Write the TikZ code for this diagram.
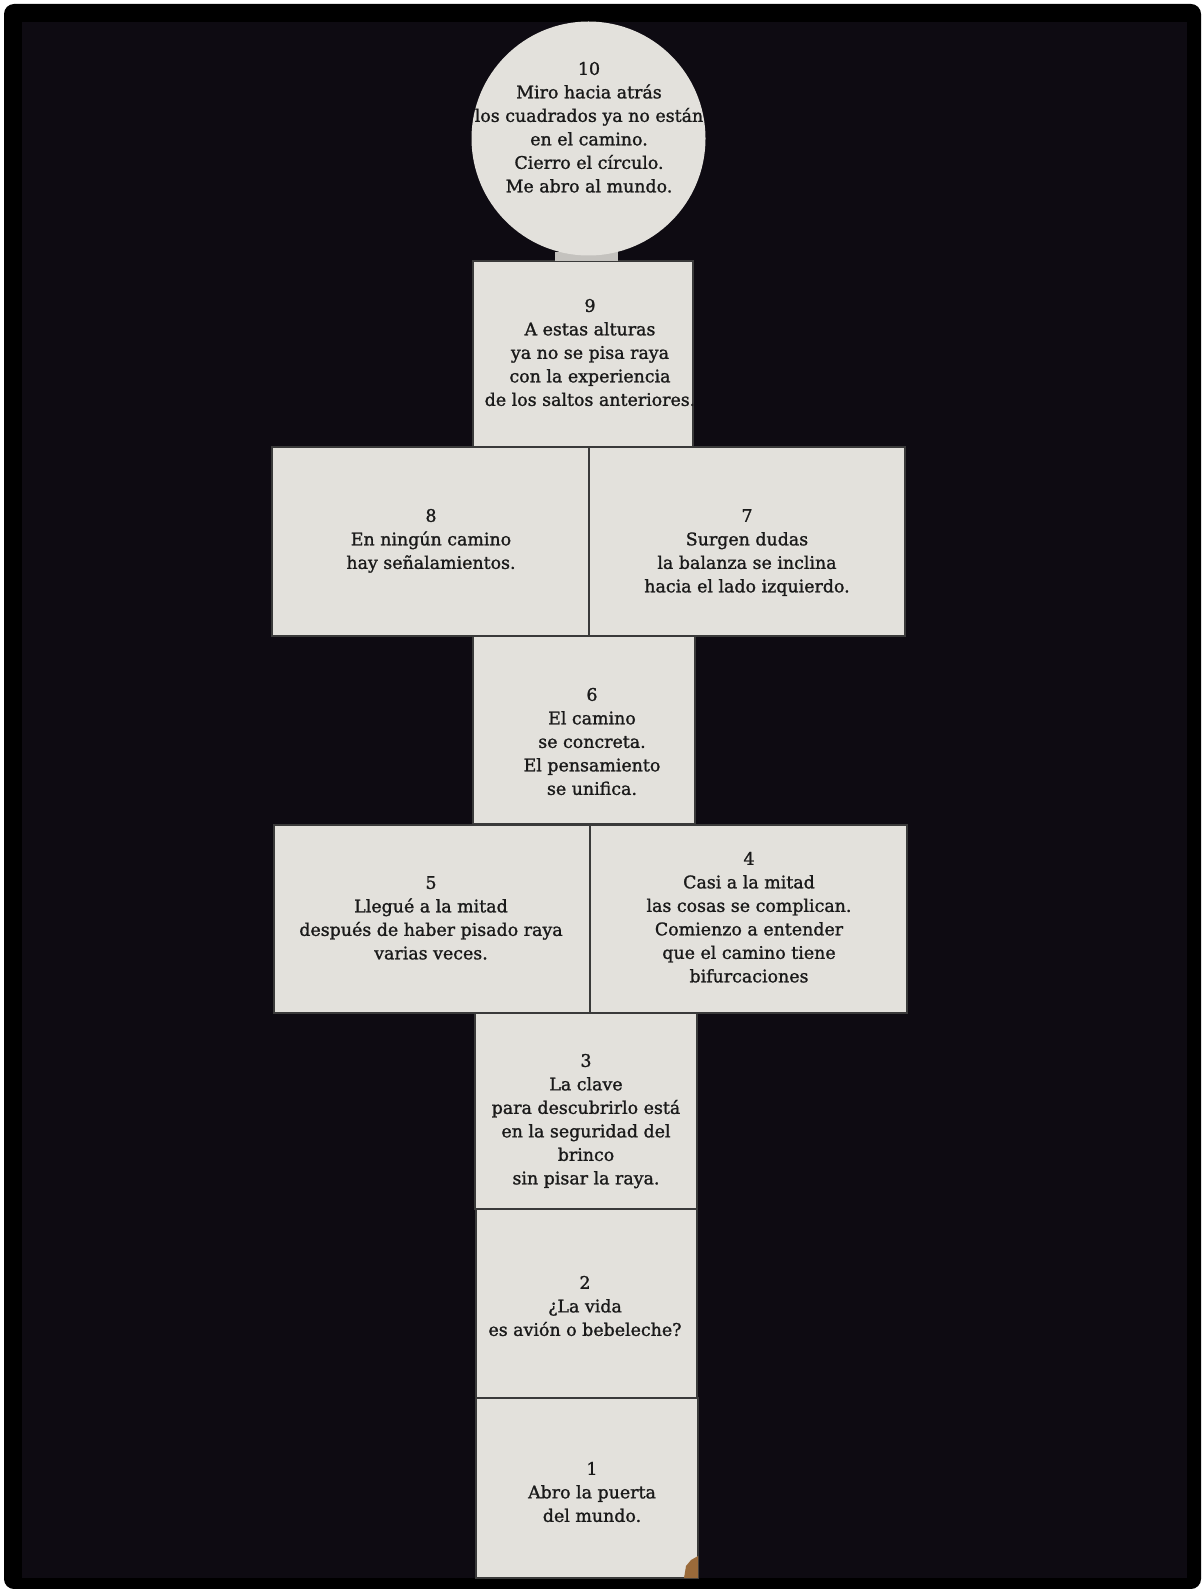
\documentclass[tikz,border=0pt]{standalone}
\usepackage{fontspec}
\setmainfont{DejaVu Serif}
\newfontfamily\cardfont[FakeBold=1.3]{DejaVu Serif}
\definecolor{paper}{HTML}{E3E1DC}
\definecolor{edge}{HTML}{3A3A3A}
\definecolor{ink}{HTML}{1A1A1A}
\definecolor{innerbg}{HTML}{0E0B12}
\definecolor{tabgray}{HTML}{C4C2BE}
\definecolor{tape}{HTML}{9A6A3A}
\begin{document}
\begin{tikzpicture}[x=0.5pt,y=-0.5pt,
  paperbox/.style={fill=paper, draw=edge, line width=0.7pt},
  txt/.style={anchor=north, inner sep=0pt, align=center, text=ink,
    font=\cardfont\fontsize{8.7}{11.75}\selectfont}]
\useasboundingbox (0,0) rectangle (1201,1589);
\fill[white] (0,0) rectangle (1201,1589);
\fill[black, rounded corners=5pt] (4,4) rectangle (1201,1589);
\fill[innerbg] (22,22) rectangle (1187,1578);

% boxes
\draw[paperbox] (473,261) rectangle (693,447);
\draw[paperbox] (272,447) rectangle (589,636);
\draw[paperbox] (589,447) rectangle (905,636);
\draw[paperbox] (473,636) rectangle (695,824);
\draw[paperbox] (274,825) rectangle (590,1013);
\draw[paperbox] (590,825) rectangle (907,1013);
\draw[paperbox] (475,1013) rectangle (697,1209);
\draw[paperbox] (476,1209) rectangle (697,1398);
\draw[paperbox] (476,1398) rectangle (698,1578);
\fill[tape] (684,1578) -- (686,1566) -- (691,1560) -- (698,1556) -- (698,1578) -- cycle;

% tab and circle
\fill[tabgray] (555,252) rectangle (618,261);
\fill[paper] (588.5,138.5) circle[radius=58.5pt];

% texts
\begin{scope}
\clip (588.5,138.5) circle[radius=58.5pt];
\node[txt] (t10) at (589,58) {\strut 10\\Miro hacia atrás\\los cuadrados ya no están\\en el camino.\\Cierro el círculo.\\Me abro al mundo.};
\end{scope}
\begin{scope}
\clip (473,261) rectangle (693,447);
\node[txt] (t9) at (590,295) {\strut 9\\A estas alturas\\ya no se pisa raya\\con la experiencia\\de los saltos anteriores.};
\end{scope}
\node[txt] (t8) at (431,505) {\strut 8\\En ningún camino\\hay señalamientos.};
\node[txt] (t7) at (747,505) {\strut 7\\Surgen dudas\\la balanza se inclina\\hacia el lado izquierdo.};
\node[txt] (t6) at (592,684) {\strut 6\\El camino\\se concreta.\\El pensamiento\\se unifica.};
\node[txt] (t5) at (431,872) {\strut 5\\Llegué a la mitad\\después de haber pisado raya\\varias veces.};
\node[txt] (t4) at (749,848) {\strut 4\\Casi a la mitad\\las cosas se complican.\\Comienzo a entender\\que el camino tiene\\bifurcaciones};
\node[txt] (t3) at (586,1050) {\strut 3\\La clave\\para descubrirlo está\\en la seguridad del\\brinco\\sin pisar la raya.};
\node[txt] (t2) at (585,1272) {\strut 2\\¿La vida\\es avión o bebeleche?};
\node[txt] (t1) at (592,1458) {\strut 1\\Abro la puerta\\del mundo.};
\end{tikzpicture}
\end{document}
